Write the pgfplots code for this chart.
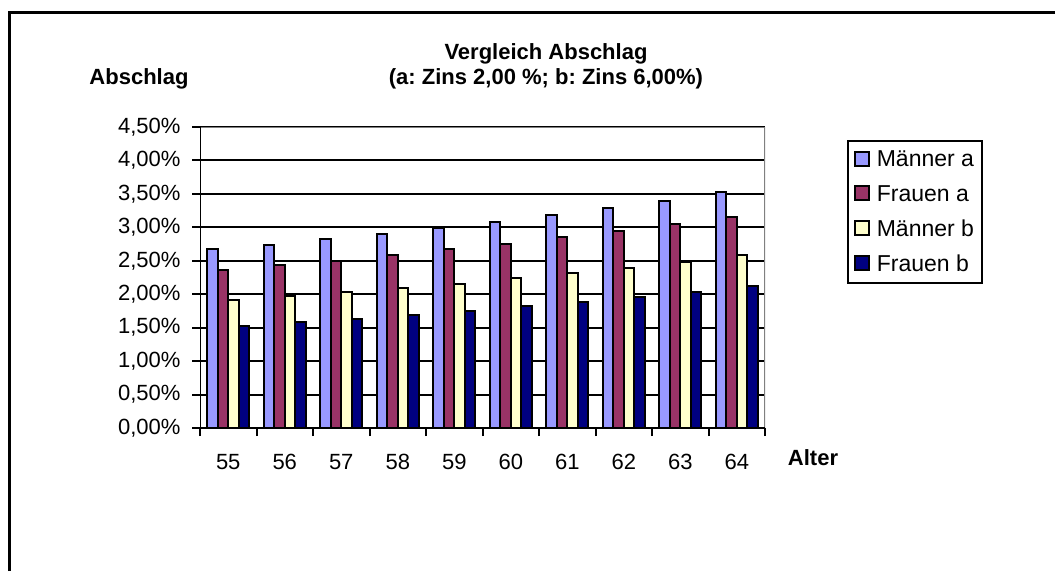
\documentclass[border=0pt]{standalone}
\usepackage{pgfplots}
\pgfplotsset{compat=1.18}
\usepackage{pgfplotstable}
\usepackage{fontspec}
\setmainfont{Liberation Sans}
\frenchspacing

\definecolor{ma}{HTML}{9999FF}
\definecolor{fa}{HTML}{993366}
\definecolor{mb}{HTML}{FFFFCC}
\definecolor{fb}{HTML}{000080}

% Abschlag in %, Alter 55..64 an x = 0..9
\pgfplotstableread{
x Ma Fa Mb Fb
0 2.67 2.36 1.91 1.53
1 2.74 2.43 1.97 1.58
2 2.82 2.50 2.03 1.63
3 2.90 2.58 2.10 1.69
4 2.99 2.67 2.16 1.75
5 3.08 2.75 2.24 1.82
6 3.19 2.85 2.31 1.88
7 3.29 2.95 2.39 1.96
8 3.40 3.05 2.48 2.04
9 3.53 3.16 2.58 2.13
}\data

\begin{document}
\begin{tikzpicture}[x=1pt,y=1pt]
\useasboundingbox (0,0) rectangle (1055,571);
\draw[line width=2.5pt] (9.5,0) -- (9.5,558.5) -- (1055,558.5);

\node[anchor=base, font=\bfseries\fontsize{22}{25}\selectfont] at (546,511) {Vergleich Abschlag};
\node[anchor=base, font=\bfseries\fontsize{22}{25}\selectfont] at (546,486) {(a: Zins 2,00 \%; b: Zins 6,00\%)};
\node[anchor=base, font=\bfseries\fontsize{22}{25}\selectfont] at (139,486) {Abschlag};
\node[anchor=base, font=\bfseries\fontsize{22}{25}\selectfont] at (813,106) {Alter};

\begin{axis}[
    at={(200pt,143pt)}, anchor=south west,
    scale only axis, width=565pt, height=301pt,
    ybar=0pt, bar width=10.5pt,
    xmin=-0.5, xmax=9.5, ymin=0, ymax=4.5,
    xtick={-0.5,0.5,...,9.5},
    x tick label as interval,
    xticklabels={55,56,57,58,59,60,61,62,63,64},
    ytick={0,0.5,...,4.5},
    yticklabel={\pgfmathprintnumber[fixed,fixed zerofill,precision=2,use comma]{\tick}\%},
    /pgf/number format/assume math mode=true,
    xtick pos=left, ytick pos=left,
    tick align=outside, major tick length=8pt,
    tick style={black, line width=2pt},
    ymajorgrids, major grid style={black, line width=2pt},
    axis line style={draw=none},
    tick label style={font=\fontsize{22}{26}\selectfont},
    yticklabel style={xshift=-8pt},
    xticklabel style={yshift=-15pt},
    legend style={at={(1.145,0.957)}, anchor=north west, draw=black,
        line width=2pt, font=\fontsize{23}{27}\selectfont,
        row sep=13pt, inner xsep=6pt, inner ysep=8pt},
    legend cell align=left,
    legend image code/.code={\draw[#1, line width=1.8pt] (0pt,-6pt) rectangle (14pt,8pt);
        \path (19pt,0pt);},
]
\addplot[fill=ma, draw=black, line width=2pt] table[x=x, y=Ma] {\data};
\addplot[fill=fa, draw=black, line width=2pt] table[x=x, y=Fa] {\data};
\addplot[fill=mb, draw=black, line width=2pt] table[x=x, y=Mb] {\data};
\addplot[fill=fb, draw=black, line width=2pt] table[x=x, y=Fb] {\data};
\legend{Männer a, Frauen a, Männer b, Frauen b}
\draw[gray, line width=2pt] (rel axis cs:0,1) -- (rel axis cs:1,1) -- (rel axis cs:1,0);
\draw[black, line width=2pt] (rel axis cs:0,1) -- (rel axis cs:0,0) -- (rel axis cs:1,0);
\end{axis}
\end{tikzpicture}
\end{document}
